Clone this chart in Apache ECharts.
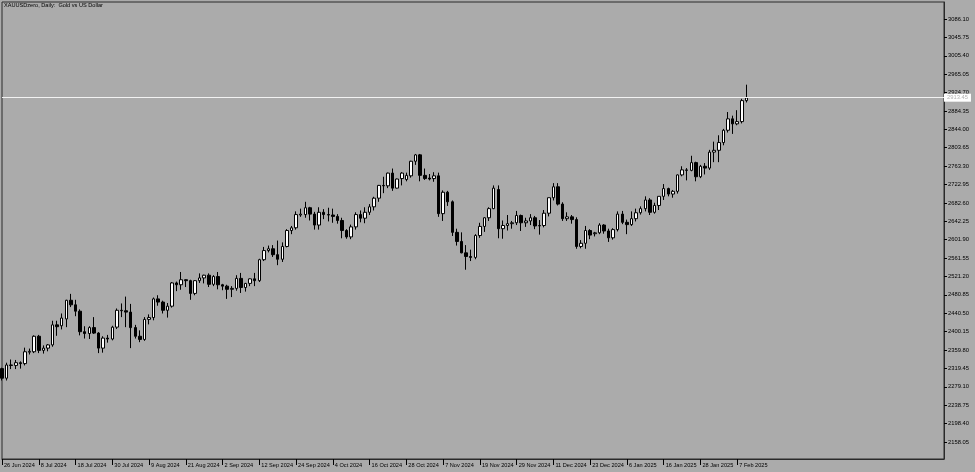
<!DOCTYPE html>
<html>
<head>
<meta charset="utf-8">
<script src="https://cdn.jsdelivr.net/npm/echarts@6/dist/echarts.min.js"></script>
<style>
html,body{margin:0;padding:0;background:#ababab;}
#chart{width:975px;height:472px;}
</style>
</head>
<body>
<div id="chart"></div>
<script>
// Trading-day categories (one per candle)
const dates = [
 "26 Jun 2024","27 Jun 2024","28 Jun 2024",
 "1 Jul 2024","2 Jul 2024","3 Jul 2024","4 Jul 2024","5 Jul 2024","8 Jul 2024","9 Jul 2024","10 Jul 2024","11 Jul 2024","12 Jul 2024","15 Jul 2024","16 Jul 2024","17 Jul 2024","18 Jul 2024","19 Jul 2024","22 Jul 2024","23 Jul 2024","24 Jul 2024","25 Jul 2024","26 Jul 2024","29 Jul 2024","30 Jul 2024","31 Jul 2024",
 "1 Aug 2024","2 Aug 2024","5 Aug 2024","6 Aug 2024","7 Aug 2024","8 Aug 2024","9 Aug 2024","12 Aug 2024","13 Aug 2024","14 Aug 2024","15 Aug 2024","16 Aug 2024","19 Aug 2024","20 Aug 2024","21 Aug 2024","22 Aug 2024","23 Aug 2024","26 Aug 2024","27 Aug 2024","28 Aug 2024","29 Aug 2024","30 Aug 2024",
 "2 Sep 2024","3 Sep 2024","4 Sep 2024","5 Sep 2024","6 Sep 2024","9 Sep 2024","10 Sep 2024","11 Sep 2024","12 Sep 2024","13 Sep 2024","16 Sep 2024","17 Sep 2024","18 Sep 2024","19 Sep 2024","20 Sep 2024","23 Sep 2024","24 Sep 2024","25 Sep 2024","26 Sep 2024","27 Sep 2024","30 Sep 2024",
 "1 Oct 2024","2 Oct 2024","3 Oct 2024","4 Oct 2024","7 Oct 2024","8 Oct 2024","9 Oct 2024","10 Oct 2024","11 Oct 2024","14 Oct 2024","15 Oct 2024","16 Oct 2024","17 Oct 2024","18 Oct 2024","21 Oct 2024","22 Oct 2024","23 Oct 2024","24 Oct 2024","25 Oct 2024","28 Oct 2024","29 Oct 2024","30 Oct 2024","31 Oct 2024",
 "1 Nov 2024","4 Nov 2024","5 Nov 2024","6 Nov 2024","7 Nov 2024","8 Nov 2024","11 Nov 2024","12 Nov 2024","13 Nov 2024","14 Nov 2024","15 Nov 2024","18 Nov 2024","19 Nov 2024","20 Nov 2024","21 Nov 2024","22 Nov 2024","25 Nov 2024","26 Nov 2024","27 Nov 2024","28 Nov 2024","29 Nov 2024",
 "2 Dec 2024","3 Dec 2024","4 Dec 2024","5 Dec 2024","6 Dec 2024","9 Dec 2024","10 Dec 2024","11 Dec 2024","12 Dec 2024","13 Dec 2024","16 Dec 2024","17 Dec 2024","18 Dec 2024","19 Dec 2024","20 Dec 2024","23 Dec 2024","24 Dec 2024","26 Dec 2024","27 Dec 2024","30 Dec 2024","31 Dec 2024",
 "2 Jan 2025","3 Jan 2025","6 Jan 2025","7 Jan 2025","8 Jan 2025","9 Jan 2025","10 Jan 2025","13 Jan 2025","14 Jan 2025","15 Jan 2025","16 Jan 2025","17 Jan 2025","20 Jan 2025","21 Jan 2025","22 Jan 2025","23 Jan 2025","24 Jan 2025","27 Jan 2025","28 Jan 2025","29 Jan 2025","30 Jan 2025","31 Jan 2025",
 "3 Feb 2025","4 Feb 2025","5 Feb 2025","6 Feb 2025","7 Feb 2025","10 Feb 2025","11 Feb 2025"
];

// Candles: [open, close, low, high]
const ohlc = [
 [2319,2298,2293,2321],[2298,2327,2293,2332],[2327,2326,2318,2339],
 [2326,2332,2318,2338],[2332,2330,2319,2335],[2330,2356,2326,2365],[2355,2357,2350,2363],[2356,2390,2353,2392],
 [2390,2359,2353,2393],[2359,2364,2352,2370],[2364,2371,2357,2373],[2371,2415,2367,2424],[2415,2411,2391,2424],
 [2413,2430,2405,2440],[2428,2469,2410,2470],[2469,2459,2454,2483],[2459,2445,2434,2470],[2445,2400,2392,2449],
 [2400,2396,2385,2412],[2396,2409,2384,2412],[2409,2397,2395,2432],[2397,2364,2353,2399],[2364,2386,2354,2390],
 [2386,2384,2376,2393],[2384,2410,2381,2413],[2410,2447,2406,2451],
 [2447,2446,2432,2462],[2446,2443,2410,2477],[2443,2409,2364,2461],[2409,2390,2385,2415],[2390,2383,2377,2403],
 [2383,2427,2380,2432],[2427,2431,2416,2438],[2431,2472,2425,2475],[2472,2465,2457,2480],[2465,2447,2440,2468],
 [2447,2456,2431,2463],[2456,2507,2453,2509],[2507,2503,2489,2510],[2503,2514,2492,2531],[2514,2512,2498,2515],
 [2512,2484,2470,2514],[2484,2512,2480,2513],[2512,2518,2507,2528],[2518,2524,2506,2525],[2524,2504,2498,2528],
 [2504,2521,2500,2524],[2521,2503,2493,2531],
 [2503,2500,2491,2505],[2500,2493,2472,2503],[2493,2495,2476,2500],[2495,2517,2490,2524],[2517,2497,2485,2529],
 [2497,2506,2488,2507],[2506,2516,2500,2517],[2516,2512,2500,2529],[2512,2558,2509,2560],[2558,2578,2555,2586],
 [2578,2582,2574,2589],[2582,2569,2564,2590],[2569,2559,2546,2600],[2559,2587,2553,2596],[2587,2622,2585,2625],
 [2622,2628,2614,2632],[2628,2657,2624,2664],[2656,2658,2652,2670],[2657,2672,2650,2685],[2672,2658,2644,2674],
 [2658,2634,2624,2663],
 [2634,2662,2624,2673],[2662,2657,2647,2669],[2657,2656,2642,2672],[2656,2653,2639,2670],[2653,2644,2637,2658],
 [2644,2622,2605,2650],[2622,2608,2604,2625],[2608,2630,2603,2635],[2630,2657,2624,2662],[2657,2649,2640,2666],
 [2649,2662,2638,2673],[2662,2674,2656,2680],[2674,2693,2666,2696],[2693,2721,2685,2722],[2721,2720,2704,2740],
 [2720,2748,2715,2749],[2748,2715,2709,2758],[2715,2735,2714,2736],[2736,2748,2721,2750],[2734,2743,2730,2749],
 [2742,2774,2738,2775],[2774,2788,2766,2790],[2788,2743,2730,2790],
 [2743,2736,2733,2758],[2737,2735,2732,2746],[2736,2742,2729,2750],[2742,2659,2652,2749],[2659,2706,2643,2710],
 [2706,2685,2676,2709],[2685,2618,2610,2688],[2618,2598,2589,2626],[2598,2573,2572,2618],[2573,2565,2536,2590],
 [2565,2563,2555,2580],[2563,2611,2559,2614],[2611,2631,2606,2639],[2631,2650,2619,2651],[2650,2670,2643,2673],
 [2670,2715,2669,2721],[2712,2626,2605,2721],[2626,2633,2604,2644],[2633,2637,2622,2656],[2637,2639,2626,2643],
 [2639,2655,2634,2665],
 [2655,2639,2621,2657],[2639,2643,2630,2650],[2643,2650,2634,2658],[2650,2632,2625,2654],[2632,2633,2613,2645],
 [2633,2660,2629,2667],[2660,2694,2653,2694],[2694,2718,2688,2726],[2718,2680,2677,2726],[2680,2648,2643,2684],
 [2648,2652,2643,2662],[2652,2646,2637,2656],[2646,2587,2582,2651],[2587,2594,2583,2601],[2594,2622,2582,2632],
 [2622,2612,2603,2625],[2615,2617,2609,2619],[2617,2634,2614,2638],[2634,2621,2615,2636],[2621,2606,2597,2626],
 [2606,2624,2602,2627],
 [2624,2658,2620,2664],[2658,2640,2636,2665],[2640,2635,2614,2646],[2635,2648,2632,2664],[2648,2661,2642,2670],
 [2661,2670,2657,2675],[2670,2689,2664,2697],[2689,2662,2656,2693],[2662,2677,2659,2683],[2677,2697,2667,2697],
 [2697,2714,2689,2724],[2714,2702,2697,2716],[2702,2708,2694,2711],[2708,2744,2703,2745],[2744,2755,2741,2763],
 [2755,2754,2732,2759],[2754,2771,2752,2786],[2771,2740,2730,2773],[2740,2763,2737,2766],[2763,2759,2745,2770],
 [2759,2794,2755,2799],[2794,2798,2772,2817],
 [2798,2815,2772,2831],[2815,2842,2809,2845],[2842,2867,2837,2882],[2867,2856,2834,2874],[2856,2861,2853,2886],
 [2861,2907,2857,2911],[2907,2913,2903,2942]
];

// Price-axis tick labels
const priceTicks = [2158.05,2198.40,2238.75,2279.10,2319.45,2359.80,2400.15,2440.50,2480.85,2521.20,2561.55,2601.90,2642.25,2682.60,2722.95,2763.30,2803.65,2844.00,2884.35,2924.70,2965.05,3005.40,3045.75,3086.10];
const lastPrice = 2913.45;
const titleText = "XAUUSDzero, Daily:  Gold vs US Dollar";
const emptySlots = 43; // right-side chart shift (blank bars)

const cats = dates.concat(new Array(emptySlots).fill(''));
const labelEvery = (idx) => idx % 8 === 0 && idx < dates.length;

const chart = echarts.init(document.getElementById('chart'), null, {renderer:'canvas'});
chart.setOption({
  animation:false,
  backgroundColor:'#ababab',
  textStyle:{fontFamily:'Liberation Sans, Arial, sans-serif'},
  graphic:[{type:'text', left:4, top:2, style:{text:titleText, fill:'#000', font:'5.6px "Liberation Sans", Arial, sans-serif'}}],
  grid:{left:2, top:2, right:31, bottom:13, show:true, borderColor:'#2a2a2a', borderWidth:1, backgroundColor:'transparent'},
  xAxis:{
    type:'category', data:cats, boundaryGap:false,
    axisLine:{show:true, lineStyle:{color:'#2a2a2a', width:1}},
    axisTick:{show:true, interval:labelEvery, length:6, lineStyle:{color:'#000', width:1}},
    axisLabel:{interval:labelEvery, align:'left', margin:3, fontSize:5.6, color:'#000', padding:[0,0,0,2], fontFamily:'Liberation Sans, Arial, sans-serif'},
    splitLine:{show:false}
  },
  yAxis:{
    type:'value', position:'right', min:2120.7, max:3123.4, scale:true,
    axisLine:{show:true, lineStyle:{color:'#2a2a2a', width:1}},
    axisTick:{show:true, length:3, customValues:priceTicks, lineStyle:{color:'#000'}},
    axisLabel:{customValues:priceTicks, margin:4, fontSize:5.8, color:'#000', formatter:(v)=>v.toFixed(2), fontFamily:'Liberation Sans, Arial, sans-serif'},
    splitLine:{show:false}
  },
  series:[{
    type:'candlestick',
    data:ohlc,
    barWidth:3,
    itemStyle:{color:'#ffffff', color0:'#000000', borderColor:'#000000', borderColor0:'#000000', borderWidth:1},
    markLine:{
      silent:true, symbol:['none','none'], animation:false,
      lineStyle:{color:'#f2f2f2', width:1, type:'solid'},
      label:{show:true, position:'end', distance:0, formatter:lastPrice.toFixed(2), backgroundColor:'#ffffff', color:'#b4b4b4', fontSize:5.8, padding:[1,3,1,3], fontFamily:'Liberation Sans, Arial, sans-serif'},
      data:[{yAxis:lastPrice}]
    }
  }]
});
</script>
</body>
</html>
